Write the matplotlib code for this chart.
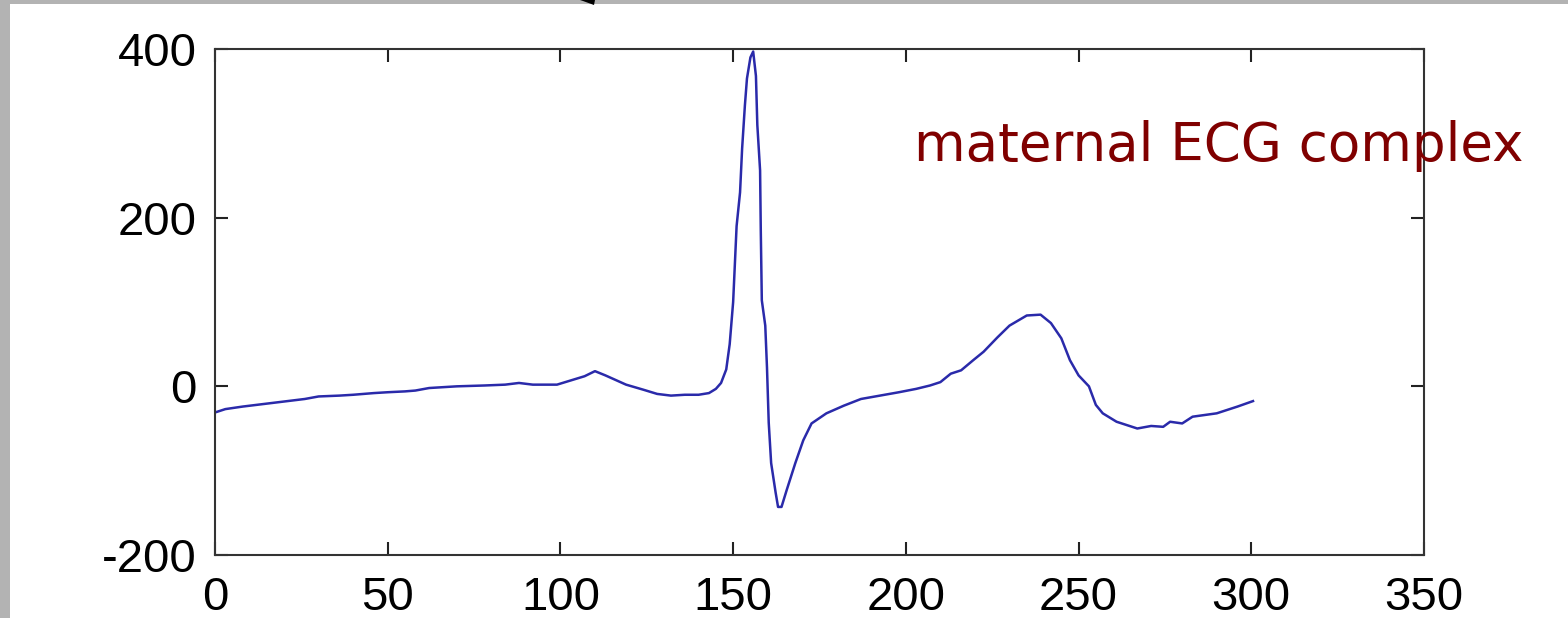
import matplotlib
matplotlib.use("Agg")
import matplotlib.pyplot as plt
from matplotlib.patches import Rectangle, Polygon

# ECG samples
sample_x = [0, 3, 8, 14, 20, 26, 30, 36, 40, 46, 50, 55, 58, 62, 66, 70, 78, 84,
            88, 92, 99, 103, 107, 110, 113, 119, 124, 128, 132, 136, 140, 143,
            145, 146.5, 148, 149, 150, 151, 152, 152.6, 153.4, 154, 155, 155.8,
            156.6, 157, 157.8, 158, 158.3, 159.3, 159.8, 160.3, 161, 162.3, 163,
            164, 165.5, 168, 170.3, 172.7, 177, 182, 187, 192.5, 198, 203, 207,
            210, 213, 216, 219.5, 222.5, 226.5, 230, 235, 239, 242, 245, 247.5,
            250, 253, 255, 257, 261, 267, 271, 274.5, 276.5, 280, 283, 290, 296,
            300.5]
sample_y = [-31, -27, -24, -21, -18, -15, -12, -11, -10, -8, -7, -6, -5, -2, -1, 0,
            1, 2, 4, 2, 2, 7, 12, 18, 13, 2, -4, -9, -11, -10, -10, -8, -3, 4,
            20, 50, 100, 190, 230, 282, 333, 365, 390, 397, 368, 310, 256, 185,
            102, 72, 22, -43, -91, -126, -143, -143, -123, -91, -64, -44, -32,
            -23, -15, -11, -7, -3, 1, 5, 15, 19, 31, 41, 58, 72, 84, 85, 75, 57,
            31, 13, 0, -22, -32, -42, -50, -47, -48, -42, -44, -36, -32, -24,
            -17.5]

x_ticks = [0, 50, 100, 150, 200, 250, 300, 350]
y_ticks = [-200, 0, 200, 400]
annotation = "maternal ECG complex"

W, H = 1568, 618
fig = plt.figure(figsize=(W / 100, H / 100), dpi=100)
fig.patch.set_facecolor("white")

ax = fig.add_axes([215 / W, (H - 555) / H, (1424 - 215) / W, (555 - 49) / H])
ax.plot(sample_x, sample_y, color="#2a2aaa", linewidth=1.8)
ax.set_xlim(0, 350)
ax.set_ylim(-200, 400)
ax.set_xticks(x_ticks)
ax.set_yticks(y_ticks)
ax.set_xticklabels([str(v) for v in x_ticks])
ax.set_yticklabels([str(v) for v in y_ticks])
ax.tick_params(direction="in", length=9.5, width=1.5, color="#222222",
               top=True, right=True, labelsize=34, labelcolor="black")
ax.tick_params(axis="x", pad=15)
ax.tick_params(axis="y", pad=13)
for lab in ax.get_xticklabels() + ax.get_yticklabels():
    lab.set_fontfamily("Liberation Sans")
for sp in ax.spines.values():
    sp.set_linewidth(1.5)
    sp.set_color("#333333")

# slide border
fig.patches.append(Rectangle((0, 0), 10 / W, 1, transform=fig.transFigure,
                             facecolor="#b3b3b3", edgecolor="none", zorder=0))
fig.patches.append(Rectangle((0, (H - 4) / H), 1, 4 / H, transform=fig.transFigure,
                             facecolor="#b3b3b3", edgecolor="none", zorder=0))
fig.patches.append(Polygon([(580 / W, 1.0), (595 / W, 1.0), (594 / W, (H - 5) / H),
                            (583 / W, (H - 1) / H)], closed=True,
                           transform=fig.transFigure, facecolor="black",
                           edgecolor="none", zorder=5))

fig.text(914 / W, (H - 161.5) / H, annotation, color="#800000",
         fontsize=38.2, fontfamily="DejaVu Sans", ha="left", va="baseline", zorder=10)

fig.savefig("out.png", dpi=100)
